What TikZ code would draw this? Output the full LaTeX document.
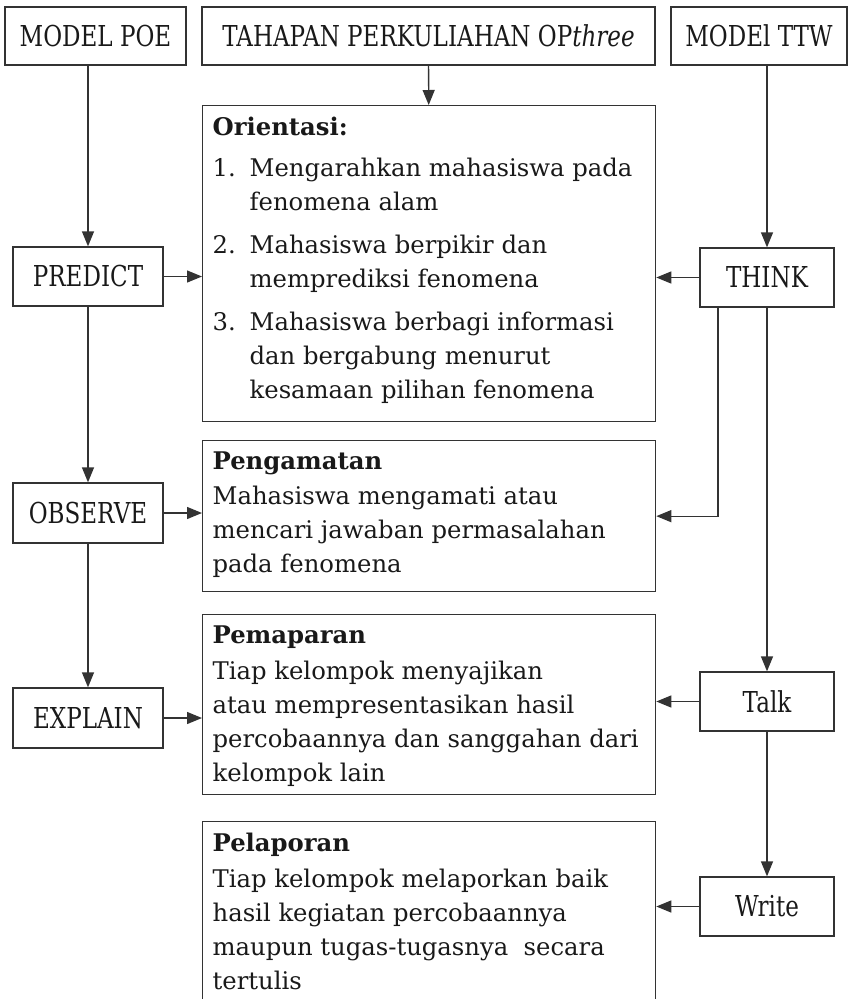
\documentclass[tikz,border=0pt]{standalone}
\usepackage{fontspec}
\setmainfont{DejaVu Serif}
\newfontfamily\condfont[FakeStretch=0.8]{DejaVu Serif}
\usetikzlibrary{arrows.meta}
\newcommand{\isikotak}[2]{\begin{minipage}[t][#1][t]{433pt}\raggedright #2\end{minipage}}
\newcommand{\nomor}[1]{\makebox[37pt][l]{#1}}
\newcommand{\lanjut}{\hspace*{37pt}}

\begin{document}
\begin{tikzpicture}[x=1pt,y=-1pt,
    garis/.style={line width=1.3pt,draw=black!80},
    kecil/.style={garis,rectangle,inner sep=0pt,text=black!90,font=\condfont\fontsize{28.8}{34}\selectfont},
    besar/.style={garis,rectangle,anchor=north west,inner xsep=10pt,inner ysep=11pt,text=black!90,font=\fontsize{24.3}{34}\selectfont},
    panah/.style={garis,-{Triangle[length=15pt,width=12pt]}}]
    \useasboundingbox (0,0) rectangle (848,999);
    \clip (0,0) rectangle (848,999);

    \node[kecil,minimum width=181pt,minimum height=58pt] (poe) at (95.5,36) {MODEL POE};
    \node[kecil,minimum width=453pt,minimum height=58pt] (tahap) at (428.5,36) {TAHAPAN PERKULIAHAN OP\textit{three}};
    \node[kecil,minimum width=176pt,minimum height=58pt] (ttw) at (759,36) {MODEl TTW};

    \node[kecil,minimum width=150pt,minimum height=59pt] (predict) at (88,276.5) {PREDICT};
    \node[kecil,minimum width=150pt,minimum height=60pt] (observe) at (88,513) {OBSERVE};
    \node[kecil,minimum width=150pt,minimum height=60pt] (explain) at (88,718) {EXPLAIN};

    \node[kecil,minimum width=134pt,minimum height=59pt] (think) at (767,277.5) {THINK};
    \node[kecil,minimum width=134pt,minimum height=59pt] (talk) at (767,701.5) {Talk};
    \node[kecil,minimum width=134pt,minimum height=59pt] (write) at (767,906.5) {Write};

    \node[besar] (orient) at (202,105) {\isikotak{294pt}{\textbf{Orientasi:}\\[7pt]
        \nomor{1.}Mengarahkan mahasiswa pada\\ \lanjut fenomena alam\\[9pt]
        \nomor{2.}Mahasiswa berpikir dan\\ \lanjut memprediksi fenomena\\[9pt]
        \nomor{3.}Mahasiswa berbagi informasi\\ \lanjut dan bergabung menurut\\ \lanjut kesamaan pilihan fenomena}};
    \node[besar] (amati) at (202,440) {\isikotak{129pt}{\textbf{Pengamatan}\\[1pt]
        Mahasiswa mengamati atau\\ mencari jawaban permasalahan\\ pada fenomena}};
    \node[besar] (papar) at (202,614) {\isikotak{158pt}{\textbf{Pemaparan}\\[2pt]
        Tiap kelompok menyajikan\\ atau mempresentasikan hasil\\ percobaannya dan sanggahan dari\\ kelompok lain}};
    \node[besar] (lapor) at (202,821) {\isikotak{168pt}{\textbf{Pelaporan}\\[2pt]
        Tiap kelompok melaporkan baik\\ hasil kegiatan percobaannya\\ maupun tugas-tugasnya\ \ secara\\ tertulis}};

    \draw[panah] (poe.south -| predict.north) -- (predict.north);
    \draw[panah] (predict) -- (observe);
    \draw[panah] (observe) -- (explain);
    \draw[panah] (tahap) -- (orient);
    \draw[panah] (ttw.south -| think.north) -- (think.north);
    \draw[panah] (think) -- (talk);
    \draw[panah] (talk) -- (write);

    \draw[panah] (predict.east) -- (predict.east -| orient.west);
    \draw[panah] (observe.east) -- (observe.east -| amati.west);
    \draw[panah] (explain.east) -- (explain.east -| papar.west);
    \draw[panah] (think.west) -- (think.west -| orient.east);
    \draw[panah] ([xshift=-49pt]think.south) |- (amati.east);
    \draw[panah] (talk.west) -- (talk.west -| papar.east);
    \draw[panah] (write.west) -- (write.west -| lapor.east);
\end{tikzpicture}
\end{document}
